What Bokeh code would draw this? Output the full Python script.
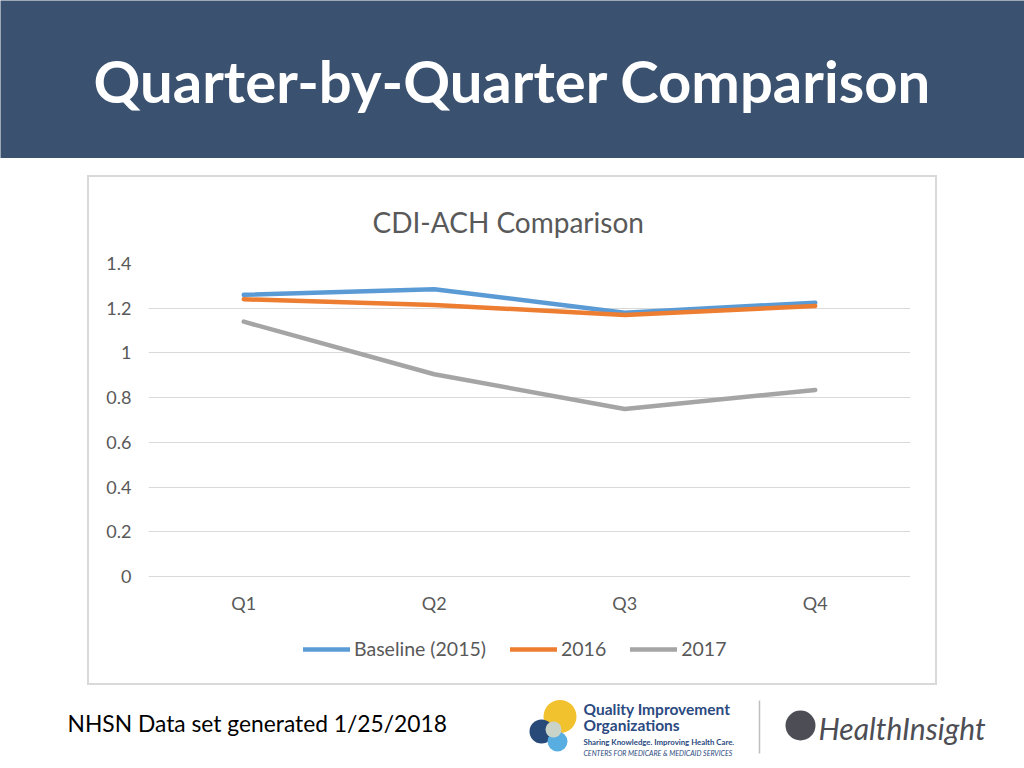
from bokeh.plotting import figure
from bokeh.layouts import column, row
from bokeh.models import (Range1d, FixedTicker, Legend, LegendItem, ColumnDataSource, Spacer)
from bokeh.core.properties import value
from bokeh.embed import file_html
from bokeh.resources import INLINE

# ---------------- data ----------------
quarters = ["Q1", "Q2", "Q3", "Q4"]
baseline_2015 = [1.26, 1.285, 1.18, 1.225]
values_2016 = [1.24, 1.215, 1.17, 1.21]
values_2017 = [1.14, 0.905, 0.75, 0.835]
series_names = ["Baseline (2015)", "2016", "2017"]
series_colors = ["#5B9BD5", "#ED7D31", "#A5A5A5"]
y_ticks = [0, 0.2, 0.4, 0.6, 0.8, 1, 1.2, 1.4]
y_tick_labels = ["0", "0.2", "0.4", "0.6", "0.8", "1", "1.2", "1.4"]
chart_title = "CDI-ACH Comparison"
slide_title = "Quarter-by-Quarter Comparison"
footnote = "NHSN Data set generated 1/25/2018"

FONT = "Lato"
GRAY_TXT = "#595959"
HEADER_BG = "#3A5170"
BOX_COLOR = "#D9D9D9"


def blank_fig(w, h, x0, x1, y0, y1, bg="white"):
    f = figure(width=w, height=h, x_range=Range1d(x0, x1), y_range=Range1d(y0, y1),
               output_backend="svg", toolbar_location=None, min_border=0)
    f.axis.visible = False
    f.grid.visible = False
    f.outline_line_color = None
    f.background_fill_color = bg
    f.border_fill_color = bg
    return f


def bar(w, h):
    return Spacer(width=w, height=h, styles={"background-color": BOX_COLOR})


# ---------------- header ----------------
header = blank_fig(1024, 158, 0, 1024, 158, 0, bg=HEADER_BG)
header.text(x=[512], y=[80], text=[slide_title], text_align="center",
            text_baseline="middle", text_font=value(FONT), text_font_style="bold",
            text_font_size="58px", text_color="white")

# ---------------- chart ----------------
CH_W, CH_H = 846, 506
B_LEFT, B_RIGHT, B_TOP, B_BOTTOM = 59, 25, 85, 8
PLOT_PX = 314            # pixel height of the 0..1.4 value band
frame_h = CH_H - B_TOP - B_BOTTOM
y_max = y_ticks[-1]
y_min = -y_max * (frame_h - PLOT_PX) / PLOT_PX   # room under the axis for labels/legend

q_pos = list(range(len(quarters)))
p = figure(width=CH_W, height=CH_H,
           x_range=Range1d(-0.5, len(quarters) - 0.5),
           y_range=Range1d(y_min, y_max),
           output_backend="svg", toolbar_location=None,
           min_border_left=B_LEFT, min_border_right=B_RIGHT,
           min_border_top=B_TOP, min_border_bottom=B_BOTTOM)
p.outline_line_color = None
p.title.text = chart_title
p.title.align = "left"
p.title.offset = 224
p.title.standoff = 50
p.title.text_font = FONT
p.title.text_font_style = "normal"
p.title.text_font_size = "28px"
p.title.text_color = GRAY_TXT

p.xgrid.grid_line_color = None
p.ygrid.grid_line_color = "#D9D9D9"
p.ygrid.grid_line_width = 1
p.yaxis.ticker = FixedTicker(ticks=y_ticks)
p.yaxis.major_label_overrides = dict(zip(y_ticks, y_tick_labels))
p.xaxis.ticker = FixedTicker(ticks=q_pos)
p.xaxis.major_label_overrides = dict(zip(q_pos, quarters))
p.xaxis.fixed_location = 0
for ax in (p.xaxis, p.yaxis):
    ax.axis_line_color = None
    ax.major_tick_line_color = None
    ax.minor_tick_line_color = None
    ax.major_tick_out = 0
    ax.major_tick_in = 0
    ax.major_label_text_font = FONT
    ax.major_label_text_font_size = "18px"
    ax.major_label_text_color = GRAY_TXT
p.yaxis.major_label_standoff = 17
p.xaxis.major_label_standoff = 15

renderers = []
for name, vals, col in zip(series_names, [baseline_2015, values_2016, values_2017], series_colors):
    src = ColumnDataSource(dict(x=q_pos, y=vals))
    r = p.line("x", "y", source=src, line_color=col, line_width=4.5,
               line_join="round", line_cap="round")
    renderers.append((name, r))

legend = Legend(items=[LegendItem(label=n, renderers=[r]) for n, r in renderers],
                location=(155, 15), orientation="horizontal",
                padding=0, margin=0, spacing=24, glyph_width=47, glyph_height=20,
                label_standoff=4, label_height=20,
                label_text_font=FONT, label_text_font_size="19.5px",
                label_text_color=GRAY_TXT,
                background_fill_alpha=0, border_line_alpha=0)
p.add_layout(legend)

boxed = column(bar(CH_W + 4, 2),
               row(bar(2, CH_H), p, bar(2, CH_H)),
               bar(CH_W + 4, 2))
middle = row(Spacer(width=87, height=CH_H + 4), boxed, Spacer(width=87, height=CH_H + 4))

# ---------------- footer ----------------
footer = blank_fig(1024, 83, 0, 1024, 768, 685)
footer.text(x=[67], y=[722], text=[footnote], text_align="left", text_baseline="middle",
            text_font=value(FONT), text_font_size="22.8px", text_color="black")
# QIO logo (decorative)
footer.scatter(x=[559.5], y=[716], size=33, marker="circle", fill_color="#F2C12E", line_color=None)
footer.scatter(x=[541], y=[731], size=24, marker="circle", fill_color="#274A78", line_color=None)
footer.scatter(x=[557], y=[741], size=20, marker="circle", fill_color="#58AEE0", line_color=None)
footer.scatter(x=[553], y=[729], size=16, marker="circle", fill_color="#C9D3C8", line_color=None)
footer.text(x=[583, 583], y=[708, 724], text=["Quality Improvement", "Organizations"],
            text_baseline="middle", text_font=value(FONT), text_font_style="bold",
            text_font_size="15.5px", text_color="#2B4A80")
footer.text(x=[583], y=[741], text=["Sharing Knowledge. Improving Health Care."],
            text_baseline="middle", text_font=value(FONT), text_font_style="bold",
            text_font_size="7.8px", text_color="#2B4A80")
footer.text(x=[583], y=[752], text=["CENTERS FOR MEDICARE & MEDICAID SERVICES"],
            text_baseline="middle", text_font=value(FONT), text_font_style="italic",
            text_font_size="7px", text_color="#2B4A80")
footer.segment(x0=[759], y0=[700], x1=[759], y1=[753], line_color="#BFBFBF", line_width=1.5)
# HealthInsight logo (decorative)
footer.scatter(x=[800], y=[725], size=30, marker="circle", fill_color="#4D4E55", line_color=None)
footer.text(x=[818], y=[727], text=["HealthInsight"], text_baseline="middle",
            text_font=value(FONT), text_font_style="italic", text_font_size="30px",
            text_color="#4D4E55")

page = column(header, Spacer(width=1024, height=17), middle, footer)

open("out.html", "w").write(file_html(page, INLINE))
